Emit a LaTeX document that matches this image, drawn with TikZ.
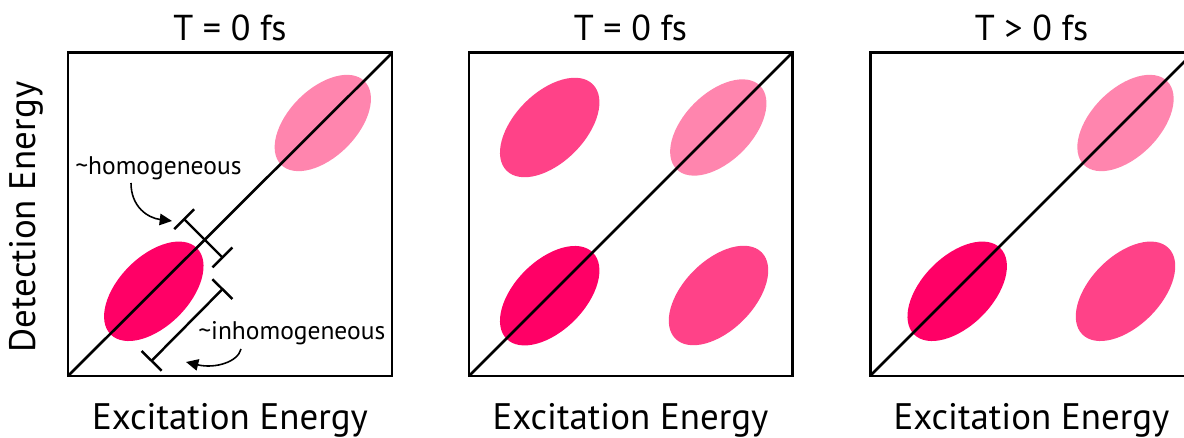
\documentclass[tikz,border=0pt]{standalone}
\usepackage{fontspec}
\setmainfont{PT Sans}
\usepackage{xcolor}
\usetikzlibrary{arrows.meta,positioning}
\definecolor{peakdark}{HTML}{FF0066}
\definecolor{peakmid}{HTML}{FF4288}
\definecolor{peaklight}{HTML}{FF85AE}
\tikzset{
    frame/.style={line width=1.7pt},
    diagline/.style={line width=1.5pt},
    dimbar/.style={line width=1.4pt, {Bar[width=16pt]}-{Bar[width=16pt]}},
    bendarrow/.style={line width=0.9pt, -{Triangle[length=7pt, width=6.5pt]}},
    title/.style={font=\fontsize{20.5}{24}\selectfont, anchor=base},
    axislabel/.style={font=\fontsize{21}{25}\selectfont, anchor=base},
    note/.style={font=\fontsize{14.5}{17}\selectfont, anchor=base west, inner sep=0pt}
}

\begin{document}
\begin{tikzpicture}[x=0.02cm, y=-0.02cm]
    \useasboundingbox (0,0) rectangle (1184,438);
    \clip (0,0) rectangle (1184,438);

    % Panel 1: T = 0 fs, diagonal peaks only
    \coordinate (p1sw) at (68,376);
    \coordinate (p1ne) at (392,53);
    \fill[peakdark, rotate around={45:(153.8,291.3)}] (153.8,291.3) ellipse [x radius=61, y radius=35];
    \fill[peaklight, rotate around={45:(322.8,123)}] (322.8,123) ellipse [x radius=59, y radius=34];
    \draw[diagline] (p1sw) -- (p1ne);
    \draw[frame] (p1sw) rectangle (p1ne);
    \node[title] (t1) at (230,41) {T = 0 fs};
    \node[axislabel] (x1) at (230,430) {Excitation Energy};
    \node[axislabel, rotate=90] (y1) at (35,217) {Detection Energy};

    % Linewidth markers
    \coordinate (homA) at (183.3,218.3);
    \coordinate (homB) at (223.3,258.3);
    \draw[dimbar] (homA) -- (homB);
    \coordinate (inhA) at (223.3,288.3);
    \coordinate (inhB) at (150.7,361.7);
    \draw[dimbar] (inhA) -- (inhB);

    \node[note] (hom) at (75,175) {\textasciitilde homogeneous};
    \node[note] (inh) at (198,340) {\textasciitilde inhomogeneous};
    \coordinate (homfoot) at (131,183);
    \coordinate (homtip) at (172,221);
    \coordinate (inhfoot) at (241,349);
    \coordinate (inhtip) at (186,362);
    \draw[bendarrow] (homfoot) .. controls (131,207) and (148,218) .. (homtip);
    \draw[bendarrow] (inhfoot) .. controls (238,362) and (215,369) .. (inhtip);

    % Panel 2: T = 0 fs, with cross peaks
    \coordinate (p2sw) at (469,376);
    \coordinate (p2ne) at (792,53);
    \fill[peakmid, rotate around={45:(549.7,127.5)}] (549.7,127.5) ellipse [x radius=61, y radius=35];
    \fill[peaklight, rotate around={45:(718.3,127.5)}] (718.3,127.5) ellipse [x radius=59, y radius=34];
    \fill[peakdark, rotate around={45:(549.7,295.7)}] (549.7,295.7) ellipse [x radius=61, y radius=35];
    \fill[peakmid, rotate around={45:(718.5,295.5)}] (718.5,295.5) ellipse [x radius=61, y radius=35];
    \draw[diagline] (p2sw) -- (p2ne);
    \draw[frame] (p2sw) rectangle (p2ne);
    \node[title] (t2) at (630.5,41) {T = 0 fs};
    \node[axislabel] (x2) at (630.5,430) {Excitation Energy};

    % Panel 3: T > 0 fs, downhill cross peak
    \coordinate (p3sw) at (870,376);
    \coordinate (p3ne) at (1193,53);
    \fill[peaklight, rotate around={45:(1125.5,123)}] (1125.5,123) ellipse [x radius=59, y radius=34];
    \fill[peakdark, rotate around={45:(957.2,291.3)}] (957.2,291.3) ellipse [x radius=61, y radius=35];
    \fill[peakmid, rotate around={45:(1125.5,291.3)}] (1125.5,291.3) ellipse [x radius=61, y radius=35];
    \draw[diagline] (p3sw) -- (p3ne);
    \draw[frame] (p3sw) rectangle (p3ne);
    \node[title] (t3) at (1031.5,41) {T > 0 fs};
    \node[axislabel] (x3) at (1031.5,430) {Excitation Energy};

\end{tikzpicture}
\end{document}
